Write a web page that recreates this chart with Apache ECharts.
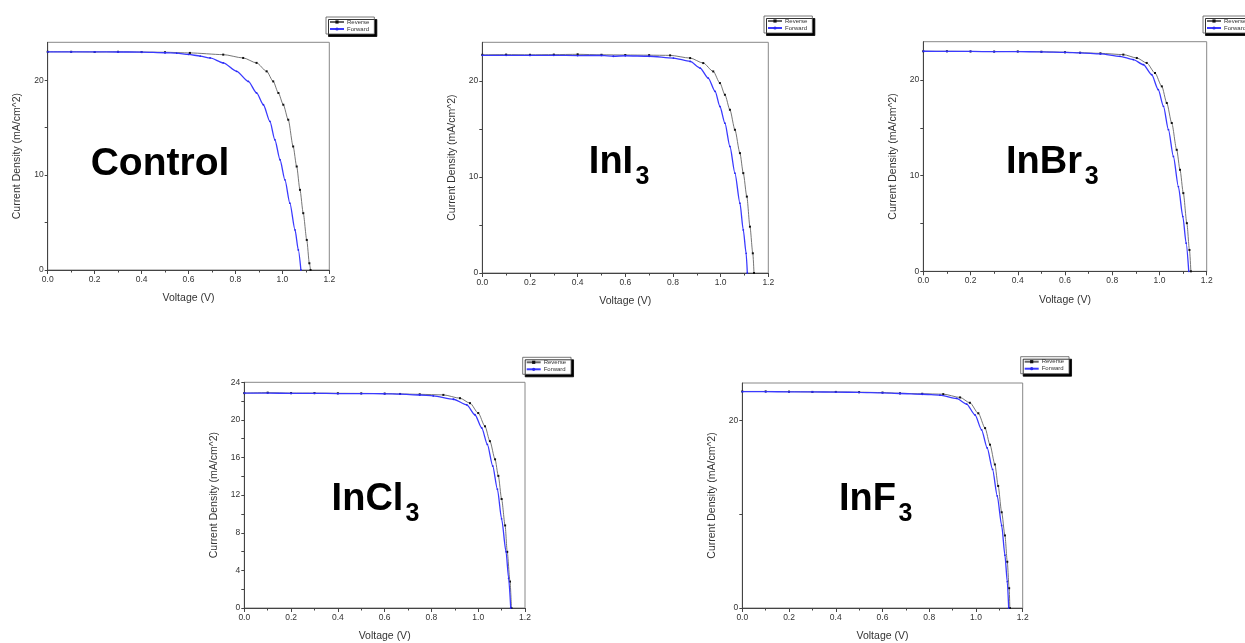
<!DOCTYPE html>
<html><head><meta charset="utf-8">
<script src="https://cdn.jsdelivr.net/npm/echarts@6/dist/echarts.min.js"></script>
<style>html,body{margin:0;padding:0;background:#fff}#c{width:1245px;height:643px}</style>
</head><body><div id="c"></div>
<script>
// ---- DATA ----
const seriesNames = ['Reverse', 'Forward'];
const panelTitles = ['Control', 'InI', 'InBr', 'InCl', 'InF'];
const panelSubs = ['', '3', '3', '3', '3'];

const controlRevV = [0, 0.1, 0.2, 0.3, 0.4, 0.5, 0.606, 0.748, 0.833, 0.890, 0.933, 0.961, 0.983, 1.004, 1.025, 1.046, 1.061, 1.075, 1.089, 1.104, 1.115, 1.12];
const controlRevJ = [23.0, 23.0, 22.98, 23.0, 22.97, 22.95, 22.88, 22.70, 22.35, 21.83, 20.94, 19.88, 18.66, 17.42, 15.84, 13.02, 10.91, 8.45, 5.99, 3.17, 0.71, 0];
const controlFwdV = [0, 0.1, 0.2, 0.3, 0.4, 0.5, 0.55, 0.6, 0.65, 0.692, 0.748, 0.805, 0.855, 0.890, 0.919, 0.947, 0.968, 0.990, 1.011, 1.032, 1.054, 1.068, 1.079];
const controlFwdJ = [23.0, 22.99, 23.0, 22.98, 22.97, 22.9, 22.85, 22.72, 22.55, 22.35, 21.83, 20.94, 19.88, 18.66, 17.42, 15.66, 13.73, 11.62, 9.50, 7.04, 4.22, 2.11, 0];

const iniRevV = [0, 0.1, 0.2, 0.3, 0.4, 0.5, 0.6, 0.7, 0.788, 0.872, 0.927, 0.969, 0.997, 1.018, 1.039, 1.060, 1.081, 1.095, 1.110, 1.123, 1.135, 1.140];
const iniRevJ = [22.7, 22.72, 22.7, 22.72, 22.75, 22.7, 22.68, 22.66, 22.64, 22.36, 21.84, 20.97, 19.76, 18.54, 16.98, 14.90, 12.47, 10.39, 7.95, 4.82, 2.05, 0];
const iniFwdV = [0, 0.1, 0.2, 0.3, 0.4, 0.5, 0.55, 0.6, 0.7, 0.802, 0.872, 0.914, 0.948, 0.977, 0.997, 1.018, 1.039, 1.060, 1.081, 1.095, 1.107, 1.112];
const iniFwdJ = [22.65, 22.65, 22.63, 22.65, 22.62, 22.63, 22.55, 22.6, 22.55, 22.36, 22.01, 21.32, 20.28, 18.89, 17.32, 15.59, 13.16, 10.39, 7.26, 4.48, 2.05, 0];

const inbrRevV = [0, 0.1, 0.2, 0.3, 0.4, 0.5, 0.6, 0.664, 0.75, 0.847, 0.904, 0.946, 0.981, 1.010, 1.031, 1.052, 1.073, 1.087, 1.101, 1.116, 1.127, 1.133];
const inbrRevJ = [23.0, 23.0, 22.98, 22.97, 22.98, 22.95, 22.9, 22.85, 22.78, 22.65, 22.30, 21.78, 20.73, 19.33, 17.59, 15.50, 12.70, 10.61, 8.17, 5.03, 2.23, 0];
const inbrFwdV = [0, 0.1, 0.2, 0.3, 0.4, 0.5, 0.6, 0.664, 0.75, 0.833, 0.889, 0.932, 0.967, 0.995, 1.017, 1.038, 1.059, 1.080, 1.099, 1.113, 1.124];
const inbrFwdJ = [23.0, 22.98, 22.98, 22.96, 22.97, 22.93, 22.88, 22.83, 22.72, 22.47, 22.13, 21.60, 20.55, 18.98, 17.24, 14.80, 12.00, 8.86, 5.72, 2.93, 0];

const inclRevV = [0, 0.1, 0.2, 0.3, 0.4, 0.5, 0.6, 0.666, 0.75, 0.851, 0.922, 0.965, 1.000, 1.029, 1.050, 1.072, 1.086, 1.100, 1.115, 1.124, 1.136, 1.142];
const inclRevJ = [22.85, 22.9, 22.85, 22.85, 22.83, 22.82, 22.8, 22.76, 22.72, 22.66, 22.31, 21.78, 20.73, 19.32, 17.74, 15.81, 14.05, 11.59, 8.78, 5.97, 2.81, 0];
const inclFwdV = [0, 0.1, 0.2, 0.3, 0.4, 0.5, 0.6, 0.666, 0.75, 0.808, 0.894, 0.951, 0.986, 1.015, 1.039, 1.062, 1.082, 1.100, 1.119, 1.130, 1.139];
const inclFwdJ = [22.85, 22.85, 22.82, 22.83, 22.8, 22.8, 22.78, 22.74, 22.65, 22.55, 22.20, 21.60, 20.55, 19.15, 17.39, 15.10, 12.64, 9.48, 5.97, 3.16, 0];

const infRevV = [0, 0.1, 0.2, 0.3, 0.4, 0.5, 0.6, 0.675, 0.77, 0.860, 0.932, 0.974, 1.010, 1.039, 1.060, 1.081, 1.095, 1.110, 1.124, 1.134, 1.142, 1.145];
const infRevJ = [23.1, 23.1, 23.08, 23.05, 23.05, 23.02, 22.98, 22.9, 22.85, 22.81, 22.46, 21.89, 20.77, 19.19, 17.42, 15.31, 13.02, 10.21, 7.74, 4.93, 2.11, 0];
const infFwdV = [0, 0.1, 0.2, 0.3, 0.4, 0.5, 0.6, 0.675, 0.77, 0.846, 0.917, 0.960, 0.996, 1.024, 1.048, 1.071, 1.091, 1.110, 1.124, 1.134, 1.140];
const infFwdJ = [23.08, 23.08, 23.05, 23.05, 23.03, 23.0, 22.95, 22.88, 22.8, 22.70, 22.35, 21.75, 20.59, 19.01, 17.07, 14.78, 11.96, 8.80, 5.63, 2.82, 0];

// tick labels
const xLabelValues = [0, 0.2, 0.4, 0.6, 0.8, 1.0, 1.2];
const yLabelsTen = [0, 10, 20];
const yTicksTen = [0, 5, 10, 15, 20];
const yLabelsFour = [0, 4, 8, 12, 16, 20, 24];
const yTicksFour = [0, 2, 4, 6, 8, 10, 12, 14, 16, 18, 20, 22, 24];
const yLabelsTwenty = [0, 20];
const yTicksTwenty = [0, 10, 20];

// ---- LAYOUT ----
const data = [
  [controlRevV, controlRevJ, controlFwdV, controlFwdJ],
  [iniRevV, iniRevJ, iniFwdV, iniFwdJ],
  [inbrRevV, inbrRevJ, inbrFwdV, inbrFwdJ],
  [inclRevV, inclRevJ, inclFwdV, inclFwdJ],
  [infRevV, infRevJ, infFwdV, infFwdJ]
];
const yLab = [yLabelsTen, yLabelsTen, yLabelsTen, yLabelsFour, yLabelsTwenty];
const yTck = [yTicksTen, yTicksTen, yTicksTen, yTicksFour, yTicksTwenty];
const grids = [
  {left: 47.7, top: 42.3, width: 281.6, height: 227.7},
  {left: 482.3, top: 42.3, width: 286, height: 230.7},
  {left: 923.3, top: 41.7, width: 283.4, height: 229.6},
  {left: 244.3, top: 382.3, width: 280.7, height: 227.7},
  {left: 742.3, top: 383, width: 280.4, height: 227}
];
const legendPos = [
  {left: 326, top: 17}, {left: 764, top: 16}, {left: 1203, top: 16},
  {left: 522.7, top: 357.3}, {left: 1020.7, top: 356.7}
];
const titlePos = [
  {x: 160, y: 164, size: 39},
  {x: 611, y: 163, size: 38, sx: 642.5, sy: 177},
  {x: 1044, y: 163, size: 38, sx: 1091.7, sy: 177},
  {x: 367.5, y: 500, size: 38, sx: 412.5, sy: 514},
  {x: 867.5, y: 500, size: 38, sx: 905.5, sy: 514}
];

const axisColor = '#444';
const option = {
  animation: false,
  backgroundColor: '#fff',
  grid: [], xAxis: [], yAxis: [], series: [], legend: [], graphic: []
};
grids.forEach((g, i) => {
  option.grid.push(Object.assign({show: true, borderColor: '#888', borderWidth: 1, backgroundColor: 'transparent'}, g));
  option.xAxis.push({
    gridIndex: i, type: 'value', min: 0, max: 1.2, interval: 0.2,
    axisLine: {show: true, onZero: false, lineStyle: {color: axisColor, width: 1}},
    axisTick: {show: true, length: 4, lineStyle: {color: axisColor}},
    minorTick: {show: true, splitNumber: 2, length: 2.5, lineStyle: {color: axisColor}},
    splitLine: {show: false},
    axisLabel: {fontSize: 8.5, color: '#333', margin: 5, fontFamily: 'Liberation Sans, Arial',
      customValues: xLabelValues, formatter: v => Number(v).toFixed(1)},
    name: 'Voltage (V)', nameLocation: 'middle', nameGap: 23,
    nameTextStyle: {fontSize: 10.5, color: '#333', fontFamily: 'Liberation Sans, Arial'}
  });
  option.yAxis.push({
    gridIndex: i, type: 'value', min: 0, max: 24,
    axisLine: {show: true, onZero: false, lineStyle: {color: axisColor, width: 1}},
    axisTick: {show: true, length: 3, lineStyle: {color: axisColor}, customValues: yTck[i]},
    splitLine: {show: false},
    axisLabel: {fontSize: 8.5, color: '#333', margin: 4, fontFamily: 'Liberation Sans, Arial', customValues: yLab[i]},
    name: 'Current Density (mA/cm^2)', nameLocation: 'middle', nameGap: 25,
    nameTextStyle: {fontSize: 10.5, color: '#333', fontFamily: 'Liberation Sans, Arial'}
  });
  const d = data[i];
  option.series.push({
    name: seriesNames[0], type: 'line', xAxisIndex: i, yAxisIndex: i,
    data: d[0].map((v, k) => [v, d[1][k]]),
    smooth: 0.25, smoothMonotone: 'x',
    symbol: 'rect', symbolSize: 2, showSymbol: true,
    lineStyle: {color: '#666', width: 0.9},
    itemStyle: {color: '#111'}, z: 2
  });
  option.series.push({
    name: seriesNames[1], type: 'line', xAxisIndex: i, yAxisIndex: i,
    data: d[2].map((v, k) => [v, d[3][k]]),
    smooth: 0.25, smoothMonotone: 'x',
    symbol: 'circle', symbolSize: 1.8, showSymbol: true,
    lineStyle: {color: '#3a3aff', width: 1.3},
    itemStyle: {color: '#2a2aee'}, z: 3
  });
  option.legend.push({
    left: legendPos[i].left, top: legendPos[i].top, orient: 'vertical',
    data: seriesNames, selectedMode: false,
    itemWidth: 14, itemHeight: 4, itemGap: 1, padding: [2, 5, 2, 3],
    textStyle: {fontSize: 6, color: '#333', fontFamily: 'Liberation Sans, Arial', padding: [0, 0, 0, -2]},
    backgroundColor: '#fff', borderColor: '#555', borderWidth: 0.8,
    shadowColor: '#000', shadowBlur: 0, shadowOffsetX: 2.5, shadowOffsetY: 2.5
  });
  const t = titlePos[i];
  option.graphic.push({
    type: 'text', x: t.x, y: t.y, z: 100,
    style: {text: panelTitles[i], font: 'bold ' + t.size + 'px "Liberation Sans", Arial', fill: '#000',
      textAlign: 'center', textVerticalAlign: 'middle'}
  });
  if (panelSubs[i]) {
    option.graphic.push({
      type: 'text', x: t.sx, y: t.sy, z: 100,
      style: {text: panelSubs[i], font: 'bold 25px "Liberation Sans", Arial', fill: '#000',
        textAlign: 'center', textVerticalAlign: 'middle'}
    });
  }
});

const chart = echarts.init(document.getElementById('c'), null, {renderer: 'canvas'});
chart.setOption(option);
</script>
</body></html>
